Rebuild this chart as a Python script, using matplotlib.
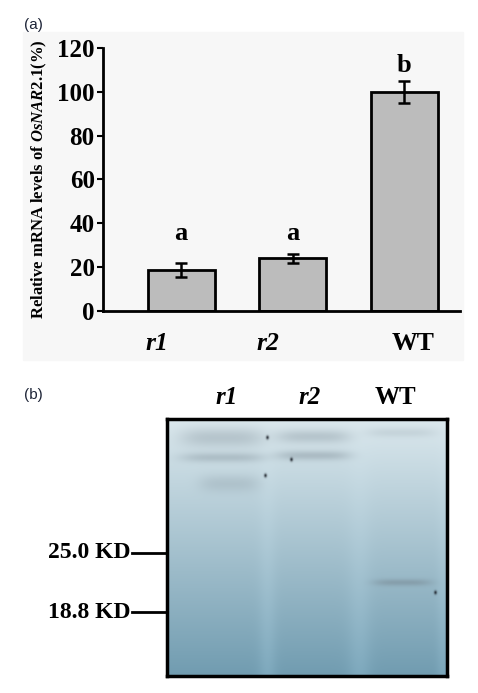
import numpy as np
import matplotlib
matplotlib.use("Agg")
import matplotlib.pyplot as plt
from matplotlib.patches import Rectangle

plt.rcParams["font.family"] = ["Liberation Serif", "DejaVu Serif"]
plt.rcParams["mathtext.fontset"] = "custom"
plt.rcParams["mathtext.rm"] = "Liberation Serif:bold"
plt.rcParams["mathtext.it"] = "Liberation Serif:italic:bold"
plt.rcParams["mathtext.bf"] = "Liberation Serif:bold"

# qRT-PCR data (panel a)
lines = ["r1", "r2", "WT"]
mrna = [18.7, 24.0, 100.0]
mrna_err = [3.3, 2.0, 5.0]
sig_letters = ["a", "a", "b"]
sig_heights = [35.5, 35.5, 112.0]
yticks = [0, 20, 40, 60, 80, 100, 120]

# western blot (panel b): lanes and bands in blot pixels (x, y, half width, half height, strength)
blot_lanes = ["r1", "r2", "WT"]
blot_lane_x = [60, 143, 228]
markers = ["25.0 KD", "18.8 KD"]
marker_y = [134, 193]
bands = [
    (55, 18, 42, 10, 0.30),
    (55, 38, 42, 5, 0.32),
    (62, 64, 30, 9, 0.22),
    (146, 17, 37, 7, 0.30),
    (146, 36, 37, 5, 0.36),
    (234, 13, 35, 5, 0.16),
    (235, 163, 29, 3.5, 0.45),
]
spots = [(100, 18), (124, 40), (98, 56), (268, 173)]

fig = plt.figure(figsize=(4.78, 6.93), dpi=100)

# faint backdrop behind panel a
fig.patches.append(Rectangle((23 / 478, 1 - 360 / 693), 440 / 478, 328 / 693,
                             transform=fig.transFigure, color="#f7f7f7", zorder=-5))

ax = fig.add_axes([103 / 478, 1 - 311 / 693, 357 / 478, 263 / 693])
ax.set_zorder(2)
ax.patch.set_alpha(0)
x = np.arange(len(lines))
ax.bar(x, mrna, width=0.6, color="#bcbcbc", edgecolor="black", linewidth=2, zorder=2)
ax.errorbar(x, mrna, yerr=mrna_err, fmt="none", ecolor="black", elinewidth=1.8,
            capsize=4, capthick=1.8, zorder=3)
for xi, lab, h in zip(x, sig_letters, sig_heights):
    ax.text(xi, h, lab, ha="center", va="center", fontsize=19, fontweight="bold")

ax.set_xlim(-0.70, 2.50)
ax.set_ylim(0, 120)
ax.set_yticks(yticks)
ax.set_yticklabels([str(v) for v in yticks], fontsize=18, fontweight="bold")
ax.tick_params(axis="y", direction="out", length=4, width=1.5, pad=2)
ax.set_xticks([-0.215, 0.776, 2.08])
ax.set_xticklabels(lines, fontsize=18.5, fontweight="bold")
for t, lab in zip(ax.get_xticklabels(), lines):
    if lab != "WT":
        t.set_style("italic")
ax.tick_params(axis="x", length=0, pad=15)
for s in ["top", "right"]:
    ax.spines[s].set_visible(False)
ax.spines["left"].set_linewidth(2)
ax.spines["bottom"].set_linewidth(2)
ax.set_ylabel(r"Relative mRNA levels of $\mathit{OsNAR2.1}$(%)", fontsize=12,
              fontweight="bold", labelpad=6)

fig.text(24 / 478, 1 - 25 / 693, "(a)", fontsize=11, family="Liberation Sans",
         color="#1e2538", va="center")
fig.text(24 / 478, 1 - 395 / 693, "(b)", fontsize=11, family="Liberation Sans",
         color="#1e2538", va="center")

# blot image
W, H = 280, 257
yy, xx = np.mgrid[0:H, 0:W].astype(float)
t = (yy / H) ** 1.0
top = np.array([0.86, 0.91, 0.93])
bottom = np.array([0.44, 0.61, 0.69])
img = top * (1 - t[..., None]) + bottom * t[..., None]
light = 0.05 * np.exp(-((xx - 100) / 9) ** 2) + 0.05 * np.exp(-((xx - 192) / 12) ** 2)
light += 0.04 * np.exp(-((xx - 275) / 6) ** 2)
img = img + (light * t)[..., None]
band_col = np.array([0.45, 0.51, 0.55])
dark = np.zeros((H, W))
for bx, by, bw, bh, s in bands:
    dark += s * np.exp(-((xx - bx) / bw) ** 4) * np.exp(-((yy - by) / bh) ** 2)
dark = np.clip(dark, 0, 0.8)
img = img * (1 - dark[..., None]) + band_col * dark[..., None]
for sx, sy in spots:
    d = 0.8 * np.exp(-(((xx - sx) / 1.5) ** 2 + ((yy - sy) / 2.0) ** 2))
    img = img * (1 - d[..., None]) + np.array([0.1, 0.12, 0.15]) * d[..., None]
img = np.clip(img, 0, 1)

bx_ax = fig.add_axes([167 / 478, 1 - 676 / 693, 280 / 478, 257 / 693])
bx_ax.imshow(img, extent=(0, W, H, 0), aspect="auto", interpolation="bilinear")
bx_ax.set_xlim(0, W)
bx_ax.set_ylim(H, 0)
bx_ax.set_xticks([])
bx_ax.set_yticks([])
for s in bx_ax.spines.values():
    s.set_linewidth(2.5)

for lx, lab in zip(blot_lane_x, blot_lanes):
    bx_ax.text(lx, -21, lab, ha="center", va="center", fontsize=18, fontweight="bold",
               style="normal" if lab == "WT" else "italic", clip_on=False)
for lab, my in zip(markers, marker_y):
    bx_ax.plot([-35, 0], [my, my], color="black", lw=2, clip_on=False)
    bx_ax.text(-36, my, lab, ha="right", va="center", fontsize=17, fontweight="bold",
               clip_on=False)

fig.savefig("out.png", dpi=100)
